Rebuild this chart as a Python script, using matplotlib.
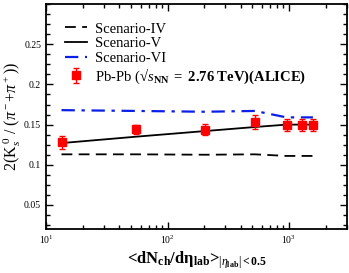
import numpy as np
import matplotlib.pyplot as plt
from matplotlib.ticker import AutoMinorLocator, MultipleLocator, LogLocator

plt.rcParams['font.family'] = 'Liberation Serif'
plt.rcParams['mathtext.fontset'] = 'custom'
plt.rcParams['mathtext.rm'] = 'Liberation Serif'
plt.rcParams['mathtext.it'] = 'Liberation Serif:italic'
plt.rcParams['mathtext.bf'] = 'Liberation Serif:bold'

# ALICE data
dndeta = [13.4, 55.5, 205, 525, 955, 1280, 1575]
ratio = [0.128, 0.144, 0.1435, 0.153, 0.149, 0.149, 0.1495]
ratio_err = [0.008, 0.006, 0.007, 0.0085, 0.0075, 0.0075, 0.0078]

# model curves
x_model = [13.4, 55.5, 205, 525, 955, 1280, 1575]
scen_iv = [0.113, 0.113, 0.1125, 0.113, 0.111, 0.111, 0.111]
scen_v = [0.127, 0.135, 0.142, 0.147, 0.150, 0.150, 0.150]
scen_vi = [0.168, 0.167, 0.166, 0.167, 0.159, 0.159, 0.159]

fig = plt.figure(figsize=(3.49, 2.73), dpi=100)
ax = fig.add_axes([0.132, 0.161, 0.862, 0.824])

ax.plot(x_model, scen_iv, color='black', ls=(0, (6, 3.5)), lw=1.3, label='Scenario-IV')
ax.plot(x_model, scen_v, color='black', ls='-', lw=1.3, label='Scenario-V')
ax.plot(x_model, scen_vi, color='#0a1fe8', ls=(0, (6, 3, 1.5, 3)), lw=1.6, label='Scenario-VI')
ax.errorbar(dndeta, ratio, yerr=ratio_err, fmt='s', color='red', ms=5.5, capsize=2,
            elinewidth=1, capthick=1,
            label=r'Pb-Pb (√$s_{\mathbf{NN}}$ $\mathbf{=\ 2.76\ TeV)(ALICE)}$')

ax.set_xscale('log')
ax.set_xlim(10, 3000)
ax.set_ylim(0.02, 0.3)
ax.yaxis.set_major_locator(MultipleLocator(0.05))
ax.yaxis.set_minor_locator(AutoMinorLocator(4))
ax.xaxis.set_minor_locator(LogLocator(base=10, subs=np.arange(2, 10)))
ax.set_yticks([0.05, 0.1, 0.15, 0.2, 0.25])
ax.set_yticklabels(['0.05', '0.1', '0.15', '0.2', '0.25'])

ax.tick_params(which='both', direction='in', top=True, right=True, labelsize=7, width=1)
ax.tick_params(which='major', length=5)
ax.tick_params(which='minor', length=3)
for s in ax.spines.values():
    s.set_linewidth(1.3)

ax.set_ylabel(r'2(K$_s^{\;0}$ / ($\pi^-$+$\pi^+$))', fontsize=11.5, labelpad=1)
ax.set_xlabel(r'<dN$_{\mathbf{ch}}$/d$\mathbf{\eta}_{\mathbf{lab}}$>$_{|\eta_{\mathbf{lab}}|\mathbf{<0.5}}$',
              fontsize=12, fontweight='bold', labelpad=2)

ax.legend(loc='upper left', bbox_to_anchor=(0.045, 0.945), frameon=False, fontsize=10.5,
          handlelength=1.5, labelspacing=0.1, handletextpad=0.5, borderaxespad=0)

fig.savefig('out.png', dpi=100)
